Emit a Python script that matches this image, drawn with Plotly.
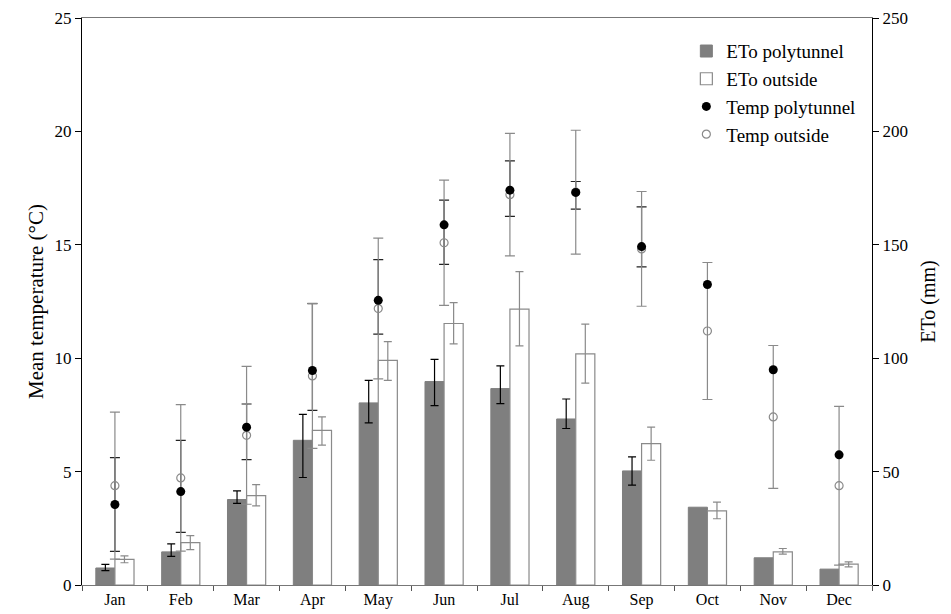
import plotly.graph_objects as go

months = ["Jan", "Feb", "Mar", "Apr", "May", "Jun", "Jul", "Aug", "Sep", "Oct", "Nov", "Dec"]

# ETo (mm), right axis  (None = no error bar shown)
eto_poly = [7.5, 14.6, 37.7, 63.8, 80.3, 89.7, 86.6, 73.2, 50.3, 34.3, 12.0, 7.0]
eto_poly_plus = [1.6, 3.5, 3.8, 11.4, 9.9, 9.8, 10.0, 8.8, 6.2, None, None, None]
eto_poly_minus = [1.2, 2.0, 1.7, 16.4, 8.8, 10.6, 6.6, 4.2, 6.3, None, None, None]
eto_out = [11.3, 18.7, 39.4, 68.2, 99.0, 115.3, 121.6, 101.9, 62.3, 32.7, 14.6, 9.2]
eto_out_plus = [1.5, 3.1, 4.9, 5.9, 8.3, 9.2, 16.6, 13.1, 7.3, 3.8, 1.5, 1.0]
eto_out_minus = [1.5, 3.1, 4.5, 6.5, 8.8, 9.0, 16.2, 12.9, 7.3, 3.5, 1.0, 1.2]

# Mean temperature (°C), left axis
temp_poly = [3.55, 4.12, 6.96, 9.46, 12.55, 15.88, 17.41, 17.31, 14.92, 13.25, 9.49, 5.74]
temp_poly_plus = [2.07, 2.26, 1.02, 2.95, 1.80, 1.09, 1.29, 0.48, 1.75, None, None, None]
temp_poly_minus = [2.07, 1.80, 1.43, 1.76, 1.49, 1.74, 1.16, 0.74, 0.89, None, None, None]
temp_out = [4.38, 4.72, 6.60, 9.22, 12.19, 15.09, 17.21, 17.32, 14.82, 11.20, 7.41, 4.38]
temp_out_err = [3.24, 3.23, 3.04, 3.20, 3.10, 2.76, 2.70, 2.73, 2.53, 3.02, 3.15, 3.50]


def present(arr):
    # drop the missing (trailing) entries so plotly.js draws no error bar there
    return [v for v in arr if v is not None]


FONT = "Liberation Serif, Times New Roman, serif"
GRAY = "#8a8a8a"

fig = go.Figure()

fig.add_trace(go.Bar(
    x=months, y=eto_poly, name="ETo polytunnel", yaxis="y",
    marker=dict(color="#7f7f7f", line=dict(color="#7f7f7f", width=1)),
    error_y=dict(type="data", symmetric=False, array=present(eto_poly_plus),
                 arrayminus=present(eto_poly_minus),
                 color="#000000", thickness=1.2, width=4),
    legendrank=1,
))
fig.add_trace(go.Bar(
    x=months, y=eto_out, name="ETo outside", yaxis="y",
    marker=dict(color="#ffffff", line=dict(color=GRAY, width=1.2)),
    error_y=dict(type="data", symmetric=False, array=eto_out_plus, arrayminus=eto_out_minus,
                 color=GRAY, thickness=1.2, width=4),
    legendrank=2,
))
# polytunnel temp error bars (drawn beneath the outside error bars)
fig.add_trace(go.Scatter(
    x=months, y=temp_poly, yaxis="y2", mode="markers", showlegend=False,
    marker=dict(size=1, color="rgba(0,0,0,0)"),
    error_y=dict(type="data", symmetric=False, array=present(temp_poly_plus),
                 arrayminus=present(temp_poly_minus),
                 color="#222222", thickness=1.2, width=5),
    hoverinfo="skip",
))
fig.add_trace(go.Scatter(
    x=months, y=temp_out, yaxis="y2", mode="markers", name="Temp outside",
    marker=dict(symbol="circle-open", size=8, color=GRAY, line=dict(width=1.2, color=GRAY)),
    error_y=dict(type="data", array=temp_out_err, color=GRAY, thickness=1.2, width=5),
    legendrank=4,
))
fig.add_trace(go.Scatter(
    x=months, y=temp_poly, yaxis="y2", mode="markers", name="Temp polytunnel",
    marker=dict(symbol="circle", size=9, color="#000000"),
    legendrank=3,
))

# the page body adds an 8px offset, so the figure is 8px smaller on each axis
fig.update_layout(
    width=943, height=606,
    margin=dict(l=74, r=79, t=10, b=29, autoexpand=False),
    paper_bgcolor="white", plot_bgcolor="white",
    font=dict(family=FONT, size=17, color="#000000"),
    barmode="group", bargap=0.42, bargroupgap=0,
    showlegend=True,
    legend=dict(x=0.765, y=0.975, xanchor="left", yanchor="top",
                font=dict(family=FONT, size=19), bgcolor="rgba(255,255,255,0)",
                tracegroupgap=0, itemwidth=30),
    xaxis=dict(
        type="category", tickson="boundaries", ticks="outside", ticklen=5,
        tickcolor="#555555", showline=True, linecolor="#777777", linewidth=1,
        tickfont=dict(family=FONT, size=16), showgrid=False, zeroline=False,
        range=[-0.5, 11.5], mirror=True, automargin=False, ticklabeloverflow="allow",
    ),
    yaxis=dict(
        side="right", range=[0, 250], tickvals=[0, 50, 100, 150, 200, 250],
        ticks="outside", ticklen=6, tickcolor="#000000", automargin=False,
        ticklabeloverflow="allow",
        showline=True, linecolor="#000000", linewidth=1, showgrid=False, zeroline=False,
        tickfont=dict(family=FONT, size=17),
        title=dict(text="ETo (mm)", font=dict(family=FONT, size=20), standoff=14),
    ),
    yaxis2=dict(
        side="left", overlaying="y", range=[0, 25], tickvals=[0, 5, 10, 15, 20, 25],
        ticks="outside", ticklen=6, tickcolor="#000000", automargin=False,
        ticklabeloverflow="allow",
        showline=True, linecolor="#000000", linewidth=1, showgrid=False, zeroline=False,
        tickfont=dict(family=FONT, size=17),
        title=dict(text="Mean temperature (°C)", font=dict(family=FONT, size=21), standoff=5),
    ),
)

fig.write_html("out.html")
